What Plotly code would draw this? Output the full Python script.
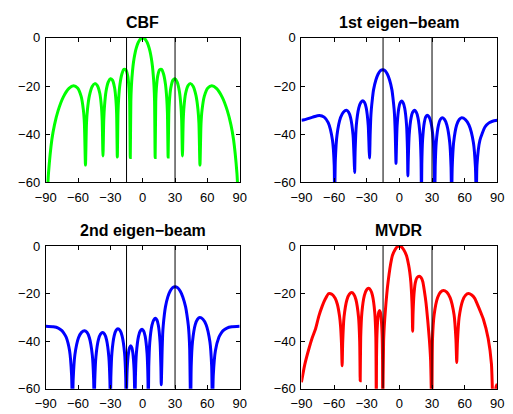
import plotly.graph_objects as go

# ---------------- data (angle in degrees, level in dB) ----------------
cbf_deg = [-90, -88, -87.44, -84.27, -81.89, -78.52, -73.74, -68.43, -64.16, -60.46,
           -57.14, -55.08, -54.1, -53.13, -52.19, -51.26, -49.46, -46.89, -44.43, -42.07,
           -39.79, -38.32, -37.59, -36.87, -36.16, -35.45, -34.06, -32.0, -30.0, -28.03,
           -26.1, -24.83, -24.2, -23.58, -22.95, -22.33, -21.1, -19.27, -17.46, -15.66,
           -13.89, -12.71, -12.12, -11.54, -11, -10.5, -10, -9, -8, -7, -6, -5, -4, -3, -2, -1,
           0,
           1, 2, 3, 4, 5, 6, 7, 8, 9, 10, 10.5, 11, 11.54, 12.12, 12.71, 13.89,
           15.66, 17.46, 19.27, 21.1, 22.33, 22.95, 23.58, 24.2, 24.83, 26.1,
           28.03, 30.0, 32.0, 34.06, 35.45, 36.16, 36.87, 37.59, 38.32, 39.79,
           42.07, 44.43, 46.89, 49.46, 51.26, 52.19, 53.13, 54.1, 55.08, 57.14,
           60.46, 64.16, 68.43, 73.74, 78.52, 81.89, 84.27, 87.44, 88, 90]
cbf_db = [-80, -60.4, -56.1, -42.1, -36.1, -30.2, -24.6, -21.0, -19.9, -20.8,
          -24.3, -29.9, -35.7, -52.8, -35.6, -29.7, -24.0, -20.2, -19.0, -19.8,
          -23.1, -28.5, -34.4, -49.0, -34.2, -28.2, -22.3, -18.4, -17.0, -17.6,
          -20.7, -26.0, -31.7, -49.5, -31.3, -25.2, -19.2, -14.9, -13.1, -13.3,
          -15.9, -20.8, -26.3, -49.7, -26.3, -20.2, -16.6, -11.7, -8.5, -6.11, -4.3, -2.88, -1.8, -0.99, -0.44, -0.11,
          0,
          -0.11, -0.44, -0.99, -1.8, -2.88, -4.3, -6.11, -8.5, -11.7, -16.6, -20.2, -26.3, -49.7, -26.3, -20.8, -15.9,
          -13.3, -13.1, -14.9, -19.2, -25.2, -31.3, -49.5, -31.7, -26.0, -20.7,
          -17.6, -17.0, -18.4, -22.3, -28.2, -34.2, -49.0, -34.4, -28.5, -23.1,
          -19.8, -19.0, -20.2, -24.0, -29.7, -35.6, -52.8, -35.7, -29.9, -24.3,
          -20.8, -19.9, -21.0, -24.6, -30.2, -36.1, -42.1, -56.1, -60.4, -80]

eig1_deg = [-90, -87.4, -79.7, -73.5, -69.1, -65.4, -61.5, -59.9, -59.5,
            -58.85, -57.3, -54.05, -51.3, -48.6, -46.7, -44.85, -42.6, -41.55, -41.1,
            -40.64, -39.58, -37.3, -35.4, -33.5, -31.98, -30.45, -28.62, -27.77, -27.4,
            -26.8, -26.3, -25.8, -24.7, -23.8, -21.6, -19.5, -17.4, -15.3, -13.2, -11.1, -9.0,
            -6.8, -5.9, -4.8, -4.3, -3.8, -3.1,
            -2.79, -2.08, -0.55, 0.73, 2.0, 3.45, 4.9, 6.64, 7.45, 7.8,
            8.16, 9.0, 10.8, 12.3, 13.8, 15.43, 17.05, 19.0, 19.91, 20.3,
            20.61, 21.34, 22.9, 24.2, 25.5, 27.25, 29.0, 31.1, 32.08, 32.5,
            32.91, 33.86, 35.9, 37.6, 39.3, 41.5, 43.65, 46.26, 47.48, 48.0,
            48.56, 49.86, 52.65, 55.0, 57.3, 60.65, 64.0, 68.02, 69.9, 70.7,
            71.3, 74.0, 78.8, 82.3, 85.6, 90]
eig1_db = [-34.2, -34.0, -32.9, -32.2, -32.9, -35.2, -42.4, -52.7, -68,
           -50.6, -40.3, -33.1, -30.8, -30.1, -30.8, -33.1, -40.3, -50.6, -55.9,
           -46.6, -36.3, -29.1, -26.8, -26.1, -26.8, -29.1, -36.3, -46.6, -49.9,
           -39.5, -33.4, -29.8, -24.9, -21.7, -17.5, -15.0, -13.6, -13.2, -13.6, -15.0, -17.5,
           -21.7, -24.9, -29.8, -33.4, -39.5, -52.1,
           -46.7, -36.4, -29.2, -26.9, -26.2, -26.9, -29.2, -36.4, -46.7, -57.3,
           -50.6, -40.3, -33.1, -30.8, -30.1, -30.8, -33.1, -40.3, -50.6, -68,
           -52.6, -42.3, -35.1, -32.8, -32.1, -32.8, -35.1, -42.3, -52.6, -68,
           -53.7, -43.4, -36.2, -33.9, -33.2, -33.9, -36.2, -43.4, -53.7, -68,
           -53.7, -43.4, -36.2, -33.9, -33.2, -33.9, -36.2, -43.4, -53.7, -68,
           -52.8, -42.5, -36.9, -35.3, -34.6, -34.2]

eig2_deg = [-90, -83, -78.4, -75, -73, -71, -67.9, -66.0, -65.2,
            -64.53, -62.96, -59.6, -56.8, -54.0, -51.75, -49.5, -46.8, -45.54, -45.0,
            -44.53, -43.44, -41.1, -39.15, -37.2, -35.4, -33.6, -31.44, -30.43, -30.0,
            -29.58, -28.6, -26.5, -24.75, -23.0, -21.07, -19.15, -16.84, -15.76, -15.3,
            -15.05, -14.46, -13.2, -12.15, -11.1, -10.13, -9.15, -7.98, -7.43, -7.2,
            -6.8, -5.88, -3.9, -2.25, -0.6, 0.85, 2.3, 4.04, 4.85, 5.2,
            5.6, 6.54, 8.55, 10.2, 11.9, 13.2, 14.55, 16.14, 16.88, 17.2,
            18.06, 18.5, 19.0, 20.1, 21.1, 23.3, 25.5, 27.8, 30.0, 32.3, 34.75, 37.2,
            39.8, 41.0, 42.4, 43.0, 43.6, 44.5,
            45.0, 46.2, 48.75, 50.9, 53.0, 55.9, 58.85, 62.36, 64.0, 64.7,
            65.5, 67.5, 70.7, 72.6, 74.6, 78.2, 82.7, 90]
eig2_db = [-33.8, -34.0, -34.5, -35.6, -36.8, -38.4, -44.0, -54.3, -70,
           -56.1, -45.8, -38.6, -36.3, -35.6, -36.3, -38.6, -45.8, -56.1, -70,
           -56.9, -46.6, -39.4, -37.1, -36.4, -37.1, -39.4, -46.6, -56.9, -70,
           -55.3, -45.0, -37.8, -35.5, -34.8, -35.5, -37.8, -45.0, -55.3, -70,
           -62.5, -52.2, -45.0, -42.7, -42.0, -42.7, -45.0, -52.2, -62.5, -70,
           -55.5, -45.2, -38.0, -35.7, -35.0, -35.7, -38.0, -45.2, -55.5, -70,
           -50.9, -40.6, -33.4, -31.1, -30.4, -31.1, -33.4, -40.6, -50.9, -58.4,
           -43.4, -37.3, -33.7, -28.8, -25.6, -21.4, -18.9, -17.5, -17.1, -17.5, -18.9, -21.4,
           -25.6, -28.8, -33.7, -37.3, -43.4, -70,
           -50.6, -40.3, -33.1, -30.8, -30.1, -30.8, -33.1, -40.3, -50.6, -70,
           -54.3, -44.0, -38.4, -36.8, -35.6, -34.5, -34.0, -33.8]

mvdr_deg = [-90, -87, -83, -80, -77, -74, -71, -68, -65, -62, -59, -57, -55, -54, -53.2, -52.6,
            -52.07, -50.84, -48.2, -46.0, -43.8, -41.85, -39.9, -37.56, -36.47, -36.0,
            -35.54, -34.46, -32.15, -30.22, -28.3, -26.52, -24.75, -22.62, -21.63, -21.2,
            -21.02, -20.6, -19.7, -18.95, -18.2, -17.48, -16.75, -15.88, -15.47, -15.3,
            -14.5, -13.5, -12.3, -11, -9.5, -8, -6.4, -4, -2, 0,
            2, 4, 6.5, 8.5, 9.5, 10.5, 11.2, 11.8, 12.2,
            12.6, 13.4, 14.6, 16.2, 18.3, 20, 21.5, 23, 24.5, 26, 27.5, 28.7, 29.8,
            30.44, 31.94, 35.15, 37.8, 40.5, 43.55, 46.6, 50.26, 51.97, 52.7,
            53.35, 54.86, 58.1, 60.8, 63.5, 66.5, 69.25, 71.3, 75, 77.2, 81.6, 84.6, 86.3,
            88, 89, 90]
mvdr_db = [-57.3, -50, -43, -38.5, -34.8, -29.5, -25.4, -22.2, -20.0, -20.3, -22, -24.5, -29.5, -34, -41, -50.4,
           -40.1, -29.8, -22.6, -20.3, -19.6, -20.3, -22.6, -29.8, -40.1, -56.7,
           -38.3, -28.0, -20.8, -18.5, -17.8, -18.5, -20.8, -28.0, -38.3, -70,
           -47.6, -37.3, -30.1, -27.8, -27.1, -27.8, -30.1, -37.3, -47.6, -70,
           -40, -31, -23.9, -17.5, -12, -7.5, -4.0, -1.6, -0.35, 0,
           -0.4, -1.6, -4.0, -8.0, -10.8, -15, -20, -26.5, -35.9,
           -28, -20.5, -15.5, -13.3, -12.7, -13.3, -15, -19, -24, -31, -39, -48, -70,
           -39.2, -28.9, -21.7, -19.4, -18.7, -19.4, -21.7, -28.9, -39.2, -49.0,
           -40.5, -30.2, -23.0, -20.7, -20.0, -20.6, -22, -24.1, -28.2, -30.8, -38.9, -49.6, -70,
           -62, -59, -58]

titles = ["CBF", "1st eigen\u2212beam", "2nd eigen\u2212beam", "MVDR"]
colors = ["#00ff00", "#0000ff", "#0000ff", "#ff0000"]
marker_angles = [-15, 30]
x_ticks = [-90, -60, -30, 0, 30, 60, 90]
y_ticks = [-60, -40, -20, 0]

# ---------------- layout ----------------
W, H = 513, 414
panels = [  # (x0, x1, ytop, ybottom) in pixels
    (36, 237, 32, 182),
    (301, 504, 32, 182),
    (36, 237, 248, 396),
    (301, 504, 248, 396),
]
series = [(cbf_deg, cbf_db), (eig1_deg, eig1_db), (eig2_deg, eig2_db), (mvdr_deg, mvdr_db)]

fig = go.Figure()
font = "Liberation Sans, Arial, Helvetica, sans-serif"
axis_common = dict(showline=True, linecolor="black", linewidth=1, mirror="ticks",
                   ticks="inside", ticklen=4, tickcolor="black", tickwidth=1,
                   showgrid=False, zeroline=False,
                   tickfont=dict(family=font, size=13, color="black"))

for i, ((x0, x1, yt, yb), (xd, yd), title, col) in enumerate(zip(panels, series, titles, colors)):
    n = "" if i == 0 else str(i + 1)
    xa, ya = "x" + n, "y" + n
    fig.add_trace(go.Scatter(x=xd, y=yd, mode="lines", xaxis=xa, yaxis=ya,
                             line=dict(color=col, width=3, shape="spline", smoothing=0.6),
                             showlegend=False, hoverinfo="skip"))
    for a in marker_angles:
        fig.add_trace(go.Scatter(x=[a, a], y=[y_ticks[0], y_ticks[-1]], mode="lines",
                                 xaxis=xa, yaxis=ya, line=dict(color="black", width=1),
                                 showlegend=False, hoverinfo="skip"))
    fig.layout["xaxis" + n] = dict(axis_common, domain=[x0 / W, x1 / W], range=[-90, 90],
                                   tickvals=x_ticks, anchor=ya, ticklabelstandoff=3)
    fig.layout["yaxis" + n] = dict(axis_common, domain=[1 - yb / H, 1 - yt / H], range=[-60, 0],
                                   tickvals=y_ticks, anchor=xa, ticklabelstandoff=2)
    fig.add_annotation(text="<b>%s</b>" % title, xref="paper", yref="paper",
                       x=(x0 + x1) / 2 / W, y=1 - (yt - 16) / H, xanchor="center", yanchor="middle",
                       showarrow=False, font=dict(family=font, size=16, color="black"))

fig.update_layout(width=W, height=H, margin=dict(l=0, r=0, t=0, b=0),
                  paper_bgcolor="white", plot_bgcolor="white")
fig.write_html("out.html")
